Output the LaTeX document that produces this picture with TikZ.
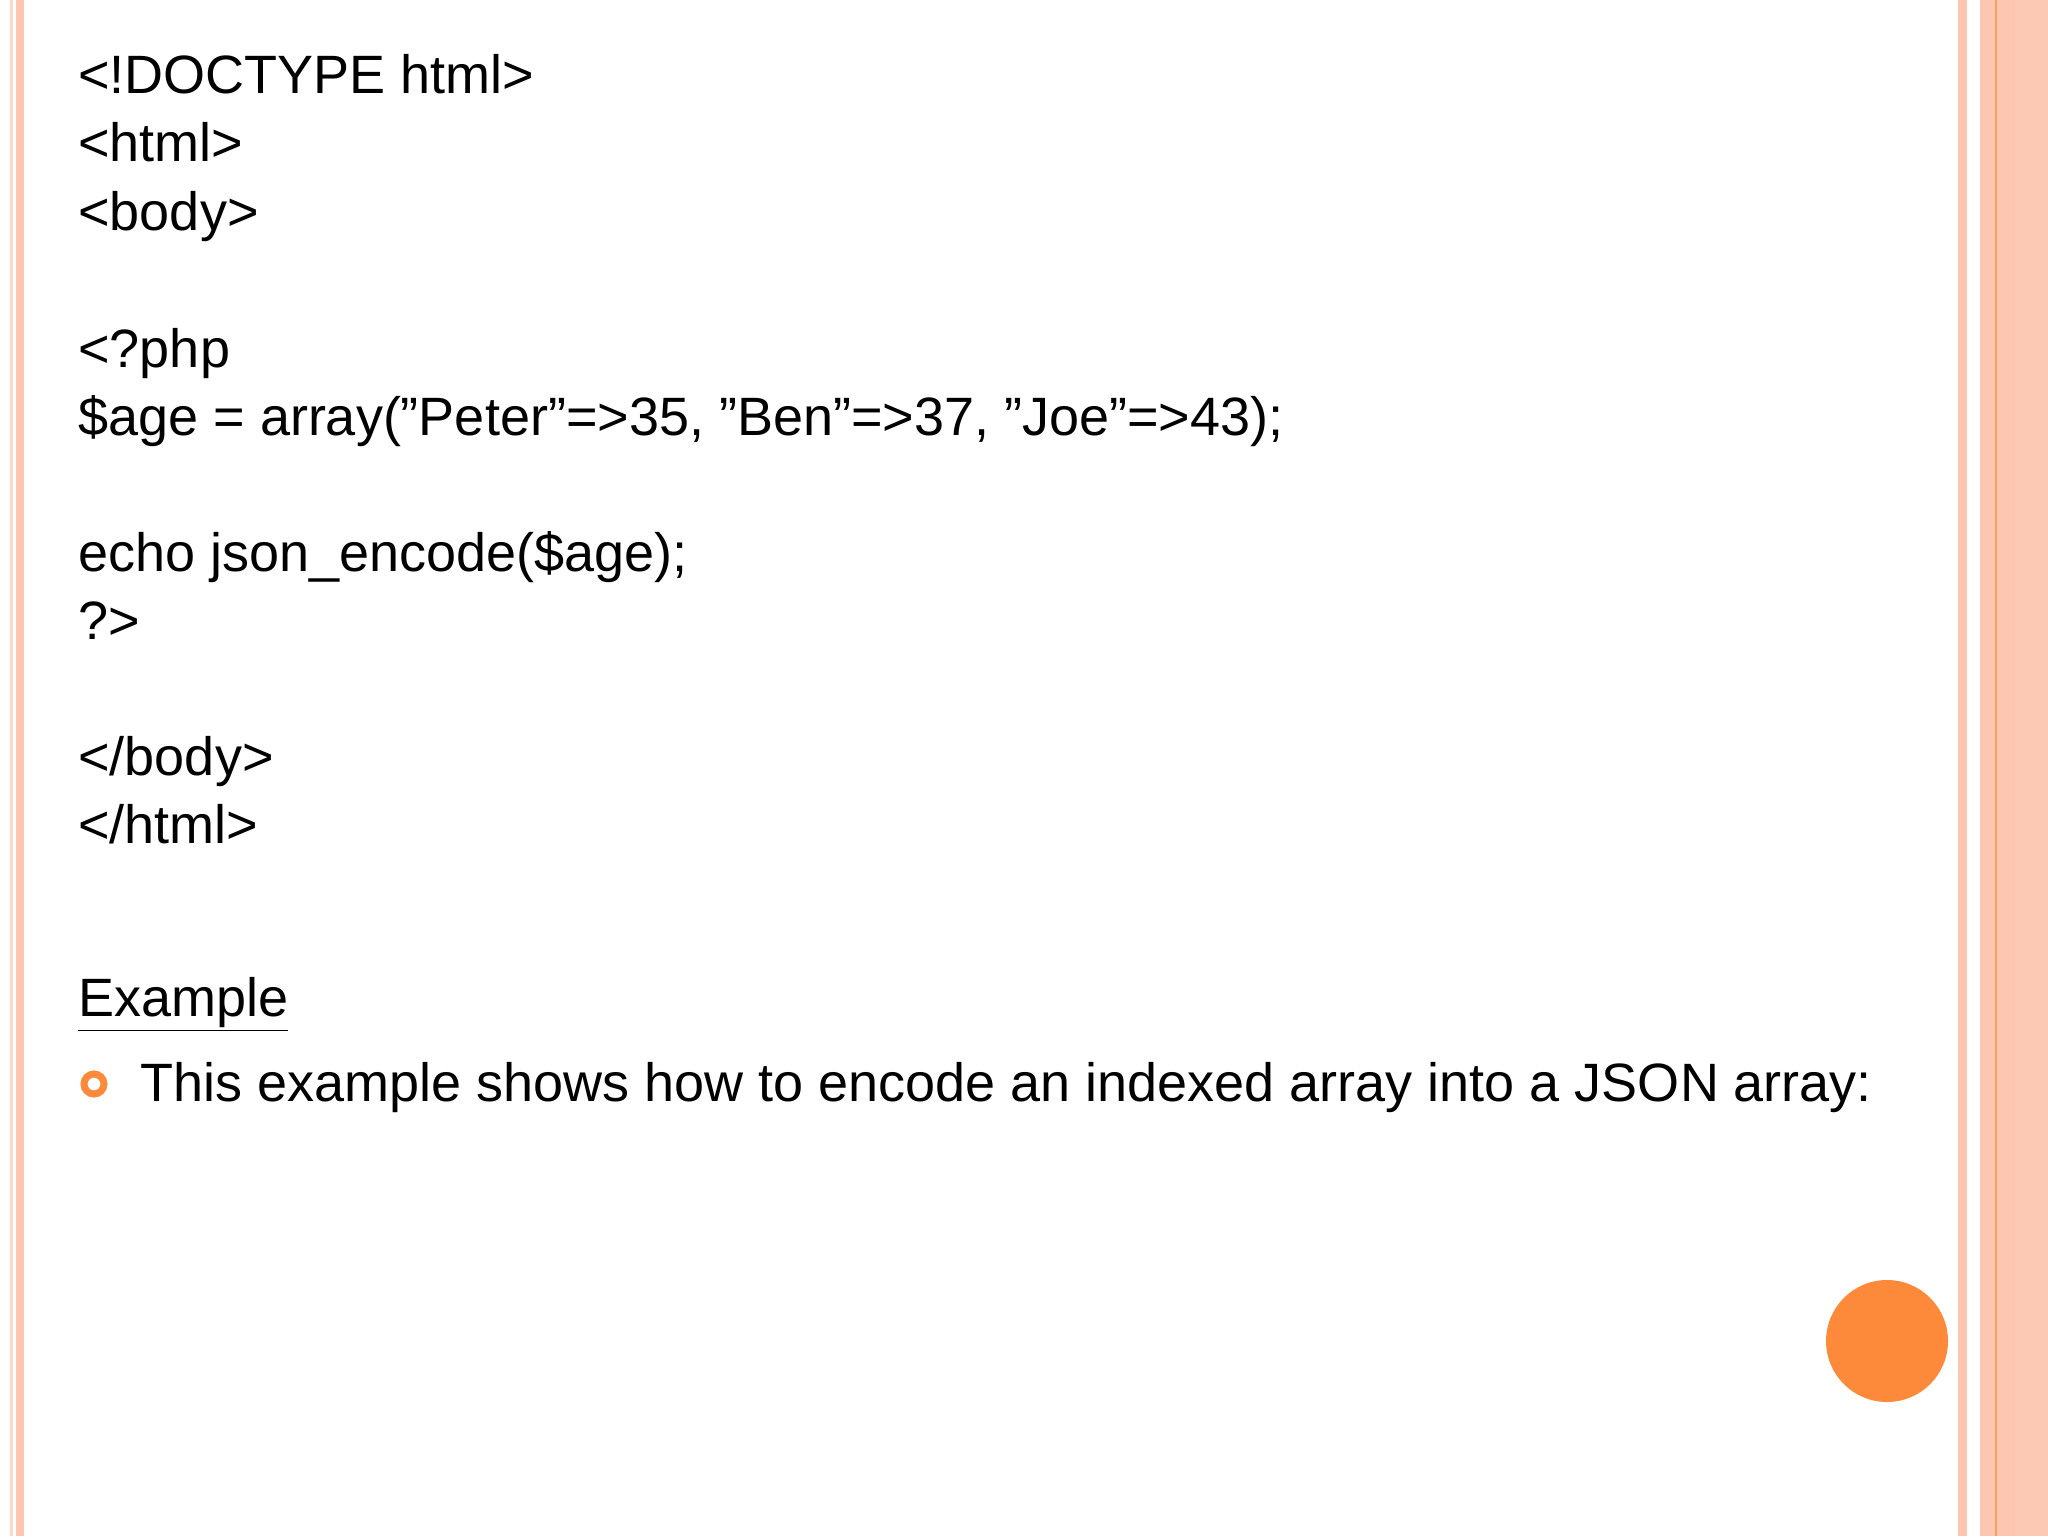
\documentclass[tikz,border=0pt]{standalone}
\usepackage{fontspec}
\setmainfont{Liberation Sans}
\definecolor{salmon}{HTML}{FDC6B0}
\definecolor{salmonb}{HTML}{FCCAB4}
\definecolor{orng}{HTML}{FD8A3B}
\begin{document}
\begin{tikzpicture}[x=0.5pt,y=-0.5pt,
  code/.style={anchor=base west,inner sep=0pt,font=\fontsize{27}{32}\selectfont}]
\useasboundingbox (0,0) rectangle (2048,1536);
\fill[white] (0,0) rectangle (2048,1536);
% left borders
\fill[salmon!70] (10,0) rectangle (13,1536);
\fill[salmon] (16,0) rectangle (24,1536);
% right borders
\fill[salmon] (1958,0) rectangle (1967,1536);
\fill[salmon] (1980,0) rectangle (2048,1536);
\fill[salmonb] (2015,0) rectangle (2048,1536);
\fill[orng!80] (1995,0) rectangle (1997,1536);
% code
\node[code] (l1) at (78,94) {<!DOCTYPE html>};
\node[code] (l2) at (78,162) {<html>};
\node[code] (l3) at (78,230) {<body>};
\node[code] (l4) at (78,367) {<?php};
\node[code] (l5) at (78,435) {\$age = array("Peter"=>35, "Ben"=>37, "Joe"=>43);};
\node[code] (l6) at (78,571) {echo json\_encode(\$age);};
\node[code] (l7) at (78,639) {?>};
\node[code] (l8) at (78,775) {</body>};
\node[code] (l9) at (78,843) {</html>};
\node[code] (ex) at (78,1016) {\underline{Example}};
\draw[orng,line width=3.5pt] (94,1084) circle (10);
\node[code] (bt) at (140,1101) {This example shows how to encode an indexed array into a JSON array:};
\fill[orng] (1887,1341) circle (61);
\end{tikzpicture}
\end{document}
